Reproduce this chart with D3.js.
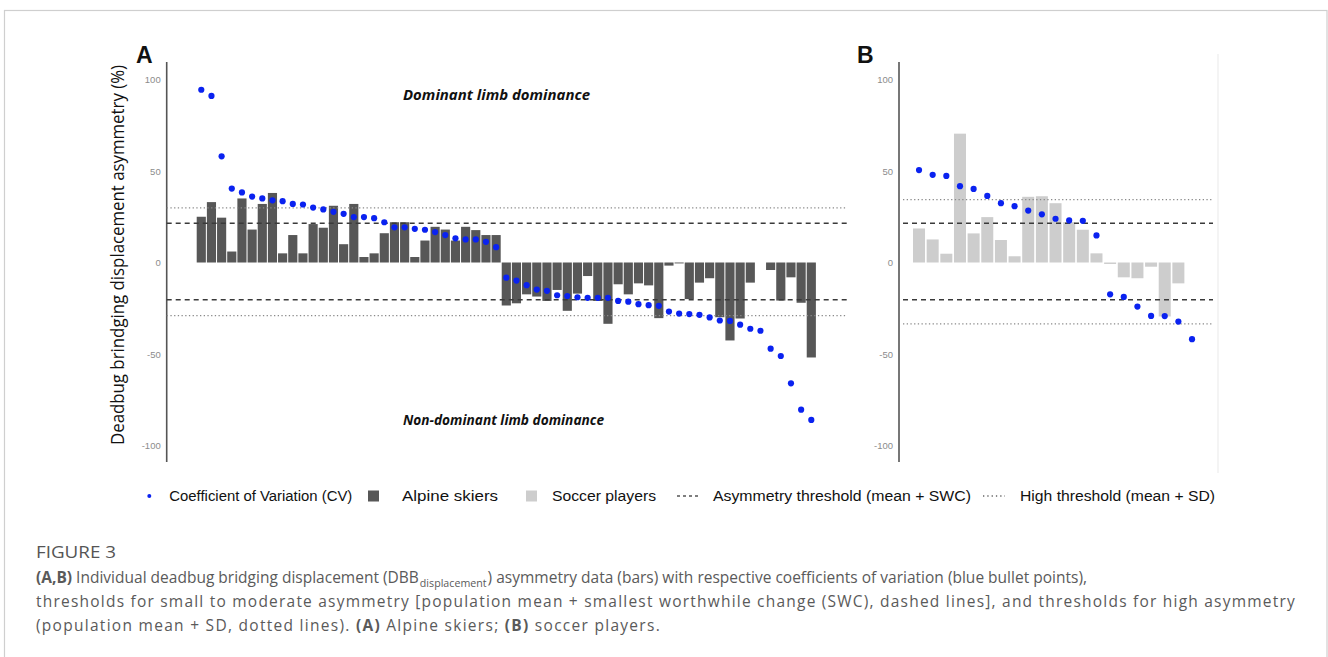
<!DOCTYPE html>
<html>
<head>
<meta charset="utf-8">
<script src="https://cdn.jsdelivr.net/npm/d3@7"></script>
<style>
  html, body { margin: 0; padding: 0; background: #fff; }
  svg { display: block; }
</style>
</head>
<body>
<svg id="chart" width="1328" height="657"></svg>
<script>
// ---------------- DATA ----------------
const alpineBars = [25, 33, 24.5, 6, 35, 18, 32, 38, 5, 15, 5, 21, 19, 31, 10, 32, 3, 5, 16, 22, 22, 3,
  12, 19.5, 18, 12, 19.5, 17.7, 15, 15,
  -23.5, -22.3, -17.4, -18.6, -21, -15, -26.4, -17, -7.4, -21, -33.5, -11.9, -17.4, -11.4, -12.5, -30.4,
  -1.7, -0.5, -20, -11, -8.6, -29.9, -42.6, -30.6, -11, 0, -4.1, -20.8, -8.1, -22, -51.9];
const alpineCV = [94.4, 91, 58, 40.4, 38.3, 36, 35, 34, 33.5, 32, 31.7, 30, 29, 27.7, 26.6, 24.8, 24.8, 24.2,
  22, 19.2, 19.2, 18.4, 17.9, 16.6, 15, 13.2, 12.6, 12.6, 11.3, 8.4,
  -8.3, -9.9, -12.4, -14.8, -15.5, -17.9, -18.3, -19, -19.3, -19.3, -19.3, -21, -21.4, -22.8, -23.3, -23.7,
  -26.8, -27.9, -28.2, -28.6, -30, -31.7, -31.9, -34, -36.2, -37.3, -47.1, -51.1, -66, -80.4, -86];
const soccerBars = [18.6, 12.6, 4.8, 70.4, 15.9, 24.8, 12.3, 3.4, 35.9, 36.2, 32.4, 22, 17.9, 5,
  -0.8, -8.1, -8.6, -2.3, -29.5, -11.4, 0];
const soccerCV = [50.5, 47.9, 47.3, 41.7, 40.2, 36.4, 32.4, 30.8, 28.4, 26.3, 23.9, 23, 22.8, 14.8,
  -17.4, -18.8, -24.1, -29.2, -29.3, -32.3, -41.9];
const alpineSWC = [21.4, -20.4];
const alpineSD = [29.9, -29];
const soccerSWC = [21.5, -20.4];
const soccerSD = [34.4, -33.5];
const tickValues = [100, 50, 0, -50, -100];
const tickLabels = ["100", "50", "0", "-50", "-100"];
const legendItems = [
  { type: "dot", label: "Coefficient of Variation (CV)" },
  { type: "dark", label: "Alpine skiers" },
  { type: "light", label: "Soccer players" },
  { type: "dash", label: "Asymmetry threshold (mean + SWC)" },
  { type: "dot-line", label: "High threshold (mean + SD)" }
];

// ---------------- SETUP ----------------
const svg = d3.select("#chart");
const BLUE = "#0a22f0", DARK = "#575757", LIGHT = "#cdcdcd";

svg.append("rect").attr("x", 4.5).attr("y", 10.5).attr("width", 1322.5).attr("height", 700)
  .attr("fill", "none").attr("stroke", "#cfcfcf").attr("stroke-width", 1.2);

const y = d3.scaleLinear().domain([-100, 100]).range([445.5, 79.5]);

function panel(cfg) {
  const g = svg.append("g");
  const x = d3.scaleBand().domain(d3.range(cfg.bars.length))
    .range(cfg.xr).paddingInner(cfg.pi).paddingOuter(cfg.pi / 2);

  if (cfg.frame) {
    g.append("line").attr("x1", cfg.frame).attr("x2", cfg.frame).attr("y1", 54).attr("y2", 473)
      .attr("stroke", "#f0f0f0").attr("stroke-width", 1.5);
  }
  const ax = g.append("g").attr("transform", `translate(${cfg.axisX},0)`)
    .call(d3.axisLeft(y).tickValues(tickValues).tickSize(0).tickPadding(6)
      .tickFormat((d, i) => tickLabels[i]));
  ax.select(".domain").remove();
  ax.selectAll("text").attr("font-family", "Liberation Sans, Arial, sans-serif")
    .attr("font-size", 9.5).attr("fill", "#8c8c8c");
  g.append("line").attr("x1", cfg.axisX).attr("x2", cfg.axisX).attr("y1", 62).attr("y2", 462)
    .attr("stroke", "#555").attr("stroke-width", 1.6);

  g.selectAll("rect.bar").data(cfg.bars).join("rect").attr("class", "bar")
    .attr("x", (d, i) => x(i)).attr("width", x.bandwidth())
    .attr("y", d => y(Math.max(0, d))).attr("height", d => Math.abs(y(d) - y(0)))
    .attr("fill", cfg.color);

  cfg.swc.forEach(v => {
    g.append("line").attr("x1", cfg.lx[0]).attr("x2", cfg.lx[1]).attr("y1", y(v)).attr("y2", y(v))
      .attr("stroke", "#3a3a3a").attr("stroke-width", 1.5).attr("stroke-dasharray", "5,4");
  });
  cfg.sd.forEach(v => {
    g.append("line").attr("x1", cfg.lx[0]).attr("x2", cfg.lx[1]).attr("y1", y(v)).attr("y2", y(v))
      .attr("stroke", "#8a8a8a").attr("stroke-width", 1.3).attr("stroke-dasharray", "1.3,2.4");
  });

  g.selectAll("circle.cv").data(cfg.cv).join("circle").attr("class", "cv")
    .attr("cx", (d, i) => x(i) + x.bandwidth() / 2).attr("cy", d => y(d))
    .attr("r", 3.1).attr("fill", BLUE);

  g.append("text").attr("x", cfg.letterX).attr("y", 63).text(cfg.letter)
    .attr("font-family", "Liberation Sans, Arial, sans-serif").attr("font-weight", "bold")
    .attr("font-size", 23).attr("fill", "#111");
  return g;
}

panel({ bars: alpineBars, cv: alpineCV, xr: [196.2, 196.2 + 61 * 10.167], pi: 0.1,
  color: DARK, axisX: 166.7, swc: alpineSWC, sd: alpineSD, lx: [166.7, 847], letter: "A", letterX: 136 });
panel({ bars: soccerBars, cv: soccerCV, xr: [912.2, 912.2 + 21 * 13.65], pi: 0.12,
  color: LIGHT, axisX: 899, swc: soccerSWC, sd: soccerSD, lx: [903, 1213], letter: "B", letterX: 857, frame: 1218 });

svg.append("text").attr("transform", "translate(124,255) rotate(-90)").attr("text-anchor", "middle")
  .attr("font-family", "Open Sans, sans-serif").attr("font-size", 18).attr("fill", "#111")
  .attr("textLength", 380).attr("lengthAdjust", "spacingAndGlyphs")
  .text("Deadbug brindging displacement asymmetry (%)");

svg.append("text").attr("x", 403).attr("y", 100).text("Dominant limb dominance")
  .attr("font-family", "Open Sans, sans-serif").attr("font-weight", "bold").attr("font-style", "italic")
  .attr("font-size", 13.5).attr("fill", "#111").attr("textLength", 187).attr("lengthAdjust", "spacingAndGlyphs");
svg.append("text").attr("x", 403).attr("y", 425).text("Non-dominant limb dominance")
  .attr("font-family", "Open Sans, sans-serif").attr("font-weight", "bold").attr("font-style", "italic")
  .attr("font-size", 13.5).attr("fill", "#111").attr("textLength", 201).attr("lengthAdjust", "spacingAndGlyphs");

// legend
const legPos = [
  { sx: 149.3, tx: 169.3, w: 183 },
  { sx: 368, tx: 402, w: 96 },
  { sx: 526, tx: 552, w: 104 },
  { sx: 677, tx: 713, w: 258 },
  { sx: 983, tx: 1020, w: 195 }
];
const lg = svg.append("g");
const LY = 496;
legendItems.forEach((it, i) => {
  const p = legPos[i];
  if (it.type === "dot") {
    lg.append("circle").attr("cx", p.sx).attr("cy", LY).attr("r", 2).attr("fill", BLUE);
  } else if (it.type === "dark" || it.type === "light") {
    lg.append("rect").attr("x", p.sx).attr("y", LY - 5.5).attr("width", 11).attr("height", 11)
      .attr("fill", it.type === "dark" ? DARK : LIGHT);
  } else if (it.type === "dash") {
    lg.append("line").attr("x1", p.sx).attr("x2", p.sx + 23).attr("y1", LY).attr("y2", LY)
      .attr("stroke", "#555").attr("stroke-width", 1.3).attr("stroke-dasharray", "3,3");
  } else {
    lg.append("line").attr("x1", p.sx).attr("x2", p.sx + 22).attr("y1", LY).attr("y2", LY)
      .attr("stroke", "#666").attr("stroke-width", 1.3).attr("stroke-dasharray", "1.3,3");
  }
  lg.append("text").attr("x", p.tx).attr("y", LY + 5).text(it.label)
    .attr("font-family", "Liberation Sans, Arial, sans-serif").attr("font-size", 15.3).attr("fill", "#111")
    .attr("textLength", p.w).attr("lengthAdjust", "spacingAndGlyphs");
});

// caption
const CX = 36;
const capFont = "Open Sans, sans-serif";
svg.append("text").attr("x", CX).attr("y", 558).text("FIGURE 3")
  .attr("font-family", capFont).attr("font-size", 16).attr("font-weight", 500).attr("fill", "#555")
  .attr("textLength", 80).attr("lengthAdjust", "spacingAndGlyphs");

const line1 = [
  { t: "(A,B)", bold: true },
  { t: " Individual deadbug bridging displacement (DBB" },
  { t: "displacement", sub: true },
  { t: ") asymmetry data (bars) with respective coefficients of variation (blue bullet points)," }
];
const line2 = [
  { t: "thresholds for small to moderate asymmetry [population mean + smallest worthwhile change (SWC), dashed lines], and thresholds for high asymmetry" }
];
const line3 = [
  { t: "(population mean + SD, dotted lines). " },
  { t: "(A)", bold: true },
  { t: " Alpine skiers; " },
  { t: "(B)", bold: true },
  { t: " soccer players." }
];

function makePieces(g, pieces, baseY) {
  return pieces.map(p => {
    const t = g.append("text").attr("y", baseY + (p.sub ? 4 : 0))
      .attr("font-family", capFont).attr("font-size", p.sub ? 11 : 16)
      .attr("font-weight", p.bold ? "bold" : "normal").attr("fill", "#5a5a5a")
      .style("white-space", "pre").text(p.t);
    return { t, p, w: t.node().getComputedTextLength() };
  });
}
// measure line 1 to get a common horizontal glyph scale
const probe = svg.append("g");
const probeNodes = makePieces(probe, line1, 0);
const W1 = d3.sum(probeNodes, n => n.w) + 2;
probe.remove();
const K = 1051 / W1;

function captionLine(pieces, baseY, target) {
  const g = svg.append("g").attr("transform", `translate(${CX},0) scale(${K},1)`);
  const nodes = makePieces(g, pieces, baseY);
  const gaps = pieces.map((p, i) => (p.sub || (i > 0 && pieces[i - 1].sub)) ? 1 : 0);
  const W = d3.sum(nodes, n => n.w) + d3.sum(gaps);
  const nChars = d3.sum(pieces, p => p.t.length);
  const ls = (target / K - W) / nChars;
  let cx = 0;
  nodes.forEach((n, i) => {
    cx += gaps[i];
    n.t.attr("x", cx).style("letter-spacing", ls + "px");
    cx += n.w + ls * n.p.t.length;
  });
}
captionLine(line1, 583, 1051);
captionLine(line2, 607, 1260);
captionLine(line3, 631, 625);
</script>
</body>
</html>
